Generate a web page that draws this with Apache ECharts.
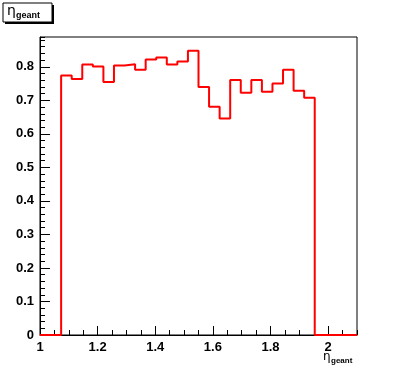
<!DOCTYPE html>
<html>
<head>
<meta charset="utf-8">
<script src="https://cdn.jsdelivr.net/npm/echarts@6/dist/echarts.min.js"></script>
<style>
html,body{margin:0;padding:0;background:#fff;}
#chart{width:396px;height:372px;}
</style>
</head>
<body>
<div id="chart"></div>
<script>
// Histogram: 30 bins from 1 to 2.1
const xMin = 1.0;
const xMax = 2.1;
const nBins = 30;
const binContents = [
  0, 0, 0.774, 0.764, 0.807, 0.801, 0.755, 0.804, 0.808, 0.791,
  0.822, 0.828, 0.807, 0.816, 0.848, 0.740, 0.681, 0.646, 0.761, 0.723,
  0.761, 0.726, 0.750, 0.791, 0.729, 0.708, 0, 0, 0, 0
];
const yMax = 0.889;
const xTickLabels = ['1', '1.2', '1.4', '1.6', '1.8', '2'];
const yTickLabels = ['0', '0.1', '0.2', '0.3', '0.4', '0.5', '0.6', '0.7', '0.8'];

const binWidth = (xMax - xMin) / nBins;
const stepData = [];
for (let i = 0; i < nBins; i++) {
  stepData.push([xMin + i * binWidth, binContents[i]]);
}
stepData.push([xMax, binContents[nBins - 1]]);

const labelFont = { fontFamily: 'Liberation Sans', fontWeight: 'bold', fontSize: 13, color: '#000' };

const chart = echarts.init(document.getElementById('chart'), null, { renderer: 'canvas' });
chart.setOption({
  animation: false,
  backgroundColor: '#fff',
  grid: { left: 40, right: 39, top: 37, bottom: 37, show: true, borderColor: '#000', borderWidth: 1, backgroundColor: 'transparent' },
  xAxis: [
    {
      type: 'value', min: xMin, max: xMax, interval: 0.2, position: 'bottom', offset: 0,
      axisLine: { show: true, onZero: false, lineStyle: { color: '#000', width: 1 } },
      axisTick: { show: true, inside: true, length: 9, lineStyle: { color: '#000' } },
      axisLabel: Object.assign({ margin: 6, showMaxLabel: false,
        formatter: v => { const s = (+v.toFixed(1)).toString(); return xTickLabels.indexOf(s) >= 0 ? s : ''; } }, labelFont),
      splitLine: { show: false }
    },
    {
      type: 'value', min: xMin, max: xMax, interval: 0.05, position: 'bottom', offset: 0,
      axisLine: { show: false, onZero: false },
      axisTick: { show: true, inside: true, length: 5, lineStyle: { color: '#000' } },
      axisLabel: { show: false },
      splitLine: { show: false }
    }
  ],
  yAxis: [
    {
      type: 'value', min: 0, max: yMax, interval: 0.1, position: 'left', offset: 0,
      axisLine: { show: true, onZero: false, lineStyle: { color: '#000', width: 1 } },
      axisTick: { show: true, inside: true, length: 10, lineStyle: { color: '#000' } },
      axisLabel: Object.assign({ margin: 6, showMaxLabel: false,
        formatter: v => { const s = (+v.toFixed(1)).toString(); return yTickLabels.indexOf(s) >= 0 ? s : ''; } }, labelFont),
      splitLine: { show: false }
    },
    {
      type: 'value', min: 0, max: yMax, interval: 0.02, position: 'left', offset: 0,
      axisLine: { show: false, onZero: false },
      axisTick: { show: true, inside: true, length: 5, lineStyle: { color: '#000' } },
      axisLabel: { show: false },
      splitLine: { show: false }
    }
  ],
  series: [
    {
      type: 'line', xAxisIndex: 0, yAxisIndex: 0, step: 'end', data: stepData,
      symbol: 'none', clip: false,
      lineStyle: { color: '#ff0000', width: 2 }
    }
  ],
  graphic: [
    { type: 'rect', shape: { x: 5, y: 5, width: 49, height: 19 }, style: { fill: '#000' }, z: 10 },
    { type: 'rect', shape: { x: 3, y: 3, width: 49, height: 19 }, style: { fill: '#fff', stroke: '#000', lineWidth: 1 }, z: 11 },
    { type: 'text', x: 7, y: 4, style: { text: 'η', font: '14px "DejaVu Sans"', fill: '#000' }, z: 12 },
    { type: 'text', x: 16, y: 11, style: { text: 'geant', font: 'bold 9px "Liberation Sans"', fill: '#000' }, z: 12 },
    { type: 'text', x: 323, y: 351, style: { text: 'η', font: '12px "DejaVu Sans"', fill: '#000' }, z: 12 },
    { type: 'text', x: 331, y: 357, style: { text: 'geant', font: 'bold 8px "Liberation Sans"', fill: '#000' }, z: 12 }
  ]
});
</script>
</body>
</html>
